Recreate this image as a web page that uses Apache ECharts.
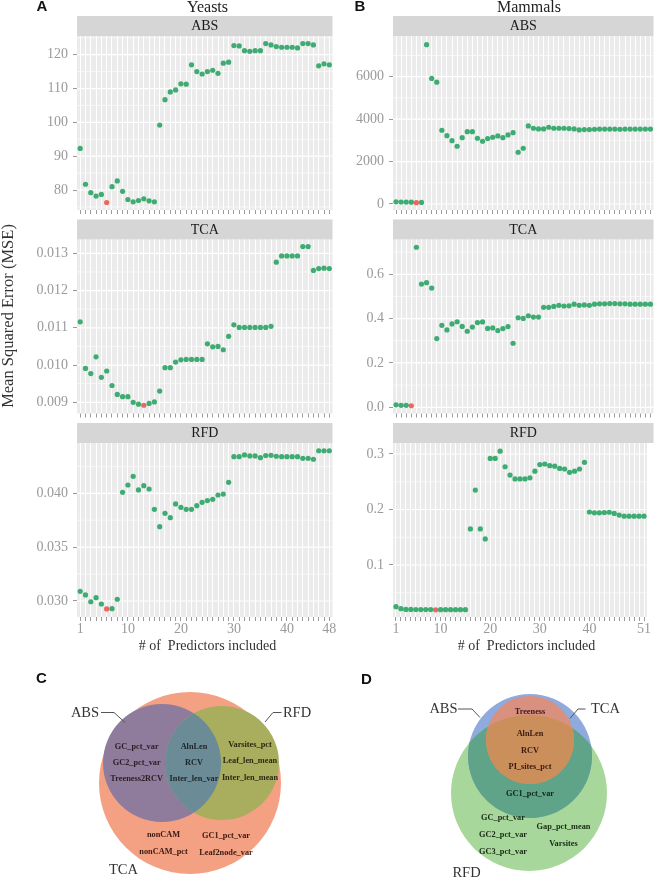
<!DOCTYPE html>
<html><head><meta charset="utf-8">
<script src="https://cdn.jsdelivr.net/npm/echarts@6/dist/echarts.min.js"></script>
<style>html,body{margin:0;padding:0;background:#fff}#c{width:654px;height:879px}</style>
</head><body><div id="c"></div>
<script>
// ---------------- DATA ----------------
const yeastsABS = [92.3, 81.7, 79.2, 78.2, 78.7, 76.3, 81.0, 82.7, 79.6, 77.2,
  76.5, 76.9, 77.4, 76.8, 76.5, 99.2, 106.7, 109.0, 109.6, 111.4,
  111.3, 117.0, 115.0, 114.3, 115.0, 115.4, 114.5, 117.5, 117.8, 122.7,
  122.6, 121.2, 121.0, 121.2, 121.2, 123.3, 122.9, 122.4, 122.2, 122.2,
  122.2, 122.0, 123.3, 123.3, 122.9, 116.7, 117.3, 117.0];
const yeastsTCA = [0.01116, 0.00991, 0.00977, 0.01022, 0.00967, 0.00984, 0.00945, 0.00921, 0.00915, 0.00915,
  0.00900, 0.00895, 0.00892, 0.00897, 0.00901, 0.00930, 0.00993, 0.00993, 0.01008, 0.01014,
  0.01015, 0.01015, 0.01015, 0.01015, 0.01057, 0.01049, 0.01050, 0.01041, 0.01077, 0.01108,
  0.01101, 0.01101, 0.01101, 0.01101, 0.01101, 0.01101, 0.01104, 0.01276, 0.01293, 0.01293,
  0.01293, 0.01293, 0.01318, 0.01318, 0.01254, 0.01259, 0.01260, 0.01259];
const yeastsRFD = [0.03090, 0.03056, 0.02993, 0.03031, 0.02972, 0.02926, 0.02929, 0.03016, 0.04009, 0.04077,
  0.04158, 0.04031, 0.04071, 0.04040, 0.03851, 0.03690, 0.03814, 0.03774, 0.03901, 0.03870,
  0.03851, 0.03851, 0.03885, 0.03916, 0.03932, 0.03944, 0.03984, 0.03993, 0.04102, 0.04340,
  0.04340, 0.04356, 0.04347, 0.04347, 0.04331, 0.04350, 0.04353, 0.04344, 0.04340, 0.04340,
  0.04340, 0.04340, 0.04325, 0.04325, 0.04316, 0.04395, 0.04395, 0.04395];
const mammalsABS = [100, 95, 90, 85, 60, 75, 7510, 5920, 5740, 3476,
  3222, 2986, 2722, 3127, 3410, 3410, 3099, 2958, 3084, 3146,
  3208, 3127, 3255, 3363, 2439, 2627, 3679, 3569, 3538, 3538,
  3617, 3569, 3569, 3569, 3553, 3538, 3490, 3506, 3506, 3522,
  3530, 3530, 3530, 3530, 3522, 3530, 3530, 3530, 3530, 3530, 3530];
const mammalsTCA = [0.011, 0.009, 0.009, 0.007, 0.722, 0.556, 0.562, 0.538, 0.310, 0.370,
  0.349, 0.376, 0.386, 0.365, 0.343, 0.362, 0.382, 0.385, 0.356, 0.358,
  0.346, 0.355, 0.364, 0.289, 0.404, 0.401, 0.413, 0.407, 0.407, 0.451,
  0.451, 0.455, 0.460, 0.457, 0.458, 0.465, 0.460, 0.462, 0.460, 0.465,
  0.467, 0.467, 0.468, 0.468, 0.467, 0.467, 0.465, 0.465, 0.465, 0.465, 0.465];
const mammalsRFD = [0.0249, 0.0213, 0.0200, 0.0199, 0.0198, 0.0197, 0.0197, 0.0196, 0.0193, 0.0195,
  0.0195, 0.0195, 0.0195, 0.0195, 0.0195, 0.165, 0.235, 0.165, 0.147, 0.292,
  0.292, 0.305, 0.277, 0.262, 0.255, 0.255, 0.255, 0.257, 0.269, 0.281,
  0.282, 0.279, 0.278, 0.274, 0.273, 0.267, 0.269, 0.273, 0.285, 0.1955,
  0.194, 0.194, 0.1945, 0.195, 0.193, 0.190, 0.188, 0.188, 0.188, 0.188, 0.188];

// selected (red) model per panel: number of predictors
const bestYeasts = [6, 13, 6];      // ABS, TCA, RFD
const bestMammals = [5, 4, 9];

const metrics = ['ABS', 'TCA', 'RFD'];
const groups = ['Yeasts', 'Mammals'];
const xLabelsYeasts = [1, 10, 20, 30, 40, 48];
const xLabelsMammals = [1, 10, 20, 30, 40, 51];

// y tick labels (major) and minor grid values
const yTicksYeasts = [[80, 90, 100, 110, 120], [0.009, 0.010, 0.011, 0.012, 0.013], [0.030, 0.035, 0.040]];
const yMinorYeasts = [[75, 85, 95, 105, 115, 125], [0.0095, 0.0105, 0.0115, 0.0125], [0.0325, 0.0375, 0.0425]];
const yTicksMammals = [[0, 2000, 4000, 6000], [0.0, 0.2, 0.4, 0.6], [0.1, 0.2, 0.3]];
const yMinorMammals = [[1000, 3000, 5000, 7000], [0.1, 0.3, 0.5, 0.7], [0.05, 0.15, 0.25]];
const yDecimals = [[0, 3, 3], [0, 1, 1]];
const yRangeYeasts = [[74.09, 125.53], [0.008699, 0.013370], [0.028514, 0.044670]];
const yRangeMammals = [[-283, 7918], [-0.028, 0.757], [0.00631, 0.3198]];

// Venn contents
const vennC_ABSonly = ['GC_pct_var', 'GC2_pct_var', 'Treeness2RCV'];
const vennC_ABS_RFD = ['AlnLen', 'RCV', 'Inter_len_var'];
const vennC_RFDonly = ['Varsites_pct', 'Leaf_len_mean', 'Inter_len_mean'];
const vennC_TCAonlyL = ['nonCAM', 'nonCAM_pct'];
const vennC_TCAonlyR = ['GC1_pct_var', 'Leaf2node_var'];
const vennD_TCAonly = ['Treeness'];
const vennD_all = ['AlnLen', 'RCV', 'PI_sites_pct'];
const vennD_ABS_RFD = ['GC1_pct_var'];
const vennD_RFDonlyL = ['GC_pct_var', 'GC2_pct_var', 'GC3_pct_var'];
const vennD_RFDonlyR = ['Gap_pct_mean', 'Varsites'];

// ---------------- LAYOUT / STYLE ----------------
const SERIF = '"Liberation Serif", "DejaVu Serif", serif';
const SANS = '"Liberation Sans", "DejaVu Sans", sans-serif';
const GREEN = '#119B52', RED = '#E8453C';
const TICK = '#9A9A9A';
const cols = [{left: 77, width: 255.5}, {left: 393, width: 260.5}];
const rows = [{top: 36, height: 174}, {top: 239.5, height: 174}, {top: 443, height: 174}];

const chart = echarts.init(document.getElementById('c'));

const grids = [], xAxes = [], yAxes = [], series = [], graphics = [];

// kind: 0 minor h-grid, 1 major h-grid, 2 v-grid, 3 x tick, 4 y tick
function gridLineRender(params, api) {
  const cs = params.coordSys;
  const kind = api.value(2);
  const p = api.coord([api.value(0), api.value(1)]);
  const x = Math.round(p[0] - 0.5) + 0.5, y = Math.round(p[1] - 0.5) + 0.5;
  if (kind === 2) {
    return {type: 'line', silent: true, shape: {x1: x, y1: cs.y, x2: x, y2: cs.y + cs.height},
      style: {stroke: '#FFFFFF', lineWidth: 1}};
  }
  if (kind === 3) {
    const b = cs.y + cs.height;
    return {type: 'line', silent: true, shape: {x1: x, y1: b, x2: x, y2: b + 4},
      style: {stroke: TICK, lineWidth: 1}};
  }
  if (kind === 4) {
    return {type: 'line', silent: true, shape: {x1: cs.x - 4, y1: y, x2: cs.x, y2: y},
      style: {stroke: TICK, lineWidth: 1}};
  }
  return {type: 'line', silent: true, shape: {x1: cs.x, y1: p[1], x2: cs.x + cs.width, y2: p[1]},
    style: {stroke: '#FFFFFF', lineWidth: kind === 1 ? 1.2 : 0.6}};
}

const datasets = [[yeastsABS, yeastsTCA, yeastsRFD], [mammalsABS, mammalsTCA, mammalsRFD]];
const bests = [bestYeasts, bestMammals];
const yTicks = [yTicksYeasts, yTicksMammals];
const yMinor = [yMinorYeasts, yMinorMammals];
const yRange = [yRangeYeasts, yRangeMammals];
const xLabs = [xLabelsYeasts, xLabelsMammals];

let gi = 0;
for (let c = 0; c < 2; c++) {
  for (let r = 0; r < 3; r++) {
    const vals = datasets[c][r];
    const n = vals.length;
    const xmin = 1 - 0.6, xmax = n + 0.6;
    const [ymin, ymax] = yRange[c][r];
    const xs = vals.map((v, i) => i + 1);
    const dec = yDecimals[c][r];
    grids.push({left: cols[c].left, top: rows[r].top, width: cols[c].width, height: rows[r].height,
      show: true, backgroundColor: '#EBEBEB', borderWidth: 0, containLabel: false});
    xAxes.push({gridIndex: gi, type: 'value', min: xmin, max: xmax,
      axisLine: {show: false}, splitLine: {show: false}, axisTick: {show: false},
      axisLabel: r === 2 ? {show: true, customValues: xLabs[c], color: TICK, fontFamily: SERIF, fontSize: 14, margin: 5}
                         : {show: false}});
    yAxes.push({gridIndex: gi, type: 'value', min: ymin, max: ymax,
      axisLine: {show: false}, splitLine: {show: false}, axisTick: {show: false},
      axisLabel: {show: true, customValues: yTicks[c][r], color: TICK, fontFamily: SERIF, fontSize: 14, margin: 9,
        formatter: v => Number(v).toFixed(dec)}});
    const gl = [];
    yMinor[c][r].forEach(v => gl.push([xmin, v, 0]));
    yTicks[c][r].forEach(v => gl.push([xmin, v, 1]));
    xs.forEach(v => gl.push([v, ymin, 2]));
    xs.forEach(v => gl.push([v, ymin, 3]));
    yTicks[c][r].forEach(v => gl.push([xmin, v, 4]));
    series.push({type: 'custom', xAxisIndex: gi, yAxisIndex: gi, silent: true, z: 1, clip: false,
      encode: {x: 0, y: 1}, data: gl, renderItem: gridLineRender, animation: false});
    series.push({type: 'scatter', xAxisIndex: gi, yAxisIndex: gi, z: 3, symbolSize: 5.2, animation: false,
      data: vals.map((v, i) => ({value: [i + 1, v],
        itemStyle: {color: (i + 1) === bests[c][r] ? RED : GREEN}}))});
    // strip
    graphics.push({type: 'rect', silent: true, shape: {x: cols[c].left, y: rows[r].top - 20, width: cols[c].width, height: 20},
      style: {fill: '#D6D6D6'}});
    graphics.push({type: 'text', silent: true, x: cols[c].left + cols[c].width / 2, y: rows[r].top - 9.5,
      style: {text: metrics[r], fontFamily: SERIF, fontSize: 14, fill: '#1A1A1A', align: 'center', verticalAlign: 'middle'}});
    gi++;
  }
}

// titles, axis titles, panel letters
function txt(x, y, text, opts) {
  return Object.assign({type: 'text', silent: true, x, y,
    style: Object.assign({text, fontFamily: SERIF, fontSize: 14, fill: '#222', align: 'center', verticalAlign: 'middle'}, opts || {})});
}
graphics.push(txt(207.5, 7.5, groups[0], {fontSize: 16}));
graphics.push(txt(529, 7.5, groups[1], {fontSize: 16}));
graphics.push(txt(42, 7, 'A', {fontFamily: SANS, fontWeight: 'bold', fontSize: 15, fill: '#111'}));
graphics.push(txt(360, 7, 'B', {fontFamily: SANS, fontWeight: 'bold', fontSize: 15, fill: '#111'}));
graphics.push(txt(207.5, 646, '# of  Predictors included', {fontSize: 14, fill: '#333'}));
graphics.push(txt(526.5, 646, '# of  Predictors included', {fontSize: 14, fill: '#333'}));
graphics.push(Object.assign(txt(9, 316, 'Mean Squared Error (MSE)', {fontSize: 16.5, fill: '#333'}), {rotation: Math.PI / 2}));
graphics.push(txt(41.5, 679, 'C', {fontFamily: SANS, fontWeight: 'bold', fontSize: 15, fill: '#111'}));
graphics.push(txt(366.5, 680, 'D', {fontFamily: SANS, fontWeight: 'bold', fontSize: 15, fill: '#111'}));

// ---------------- VENN ----------------
function arcPts(C, a0, a1, n) {
  const pts = [];
  for (let k = 0; k <= n; k++) { const a = a0 + (a1 - a0) * k / n; pts.push([C[0] + C[2] * Math.cos(a), C[1] + C[2] * Math.sin(a)]); }
  return pts;
}
function arcThrough(C, s, e, mid) {
  const T = 2 * Math.PI;
  let e2 = e; while (e2 < s) e2 += T;
  let m = mid; while (m < s) m += T;
  if (m <= e2) return arcPts(C, s, e2, 80);
  let e3 = e; while (e3 > s) e3 -= T;
  return arcPts(C, s, e3, 80);
}
function lens(A, B) {
  const dx = B[0] - A[0], dy = B[1] - A[1], d = Math.hypot(dx, dy);
  const a = (A[2] * A[2] - B[2] * B[2] + d * d) / (2 * d);
  const h = Math.sqrt(A[2] * A[2] - a * a);
  const ux = dx / d, uy = dy / d;
  const px = A[0] + a * ux, py = A[1] + a * uy;
  const I1 = [px - h * uy, py + h * ux], I2 = [px + h * uy, py - h * ux];
  const ang = (C, t) => Math.atan2(t[1] - C[1], t[0] - C[0]);
  const arc1 = arcThrough(A, ang(A, I1), ang(A, I2), Math.atan2(dy, dx));
  const arc2 = arcThrough(B, ang(B, I2), ang(B, I1), Math.atan2(-dy, -dx));
  return arc1.concat(arc2);
}
function circ(C, fill) { return {type: 'circle', silent: true, shape: {cx: C[0], cy: C[1], r: C[2]}, style: {fill}}; }
function poly(pts, fill) { return {type: 'polygon', silent: true, shape: {points: pts}, style: {fill}}; }
function leader(pts) { return {type: 'polyline', silent: true, shape: {points: pts}, style: {stroke: '#555', lineWidth: 1, fill: null}}; }
function list(x, y0, dy, arr, fill) { return arr.map((t, i) => txt(x, y0 + i * dy, t, {fontSize: 8.3, fontWeight: 'bold', fill})); }

// Venn C
const C_TCA = [190, 783, 91], C_ABS = [162, 763, 59], C_RFD = [222, 763, 57];
graphics.push(circ(C_TCA, '#F4A183'));
graphics.push(circ(C_ABS, '#8F7C9D'));
graphics.push(circ(C_RFD, '#A9AD5E'));
graphics.push(poly(lens(C_ABS, C_RFD), '#6B8C96'));
graphics.push(...list(136.7, 746.7, 16.3, vennC_ABSonly, '#2A1E24'));
graphics.push(...list(194, 746.7, 16.3, vennC_ABS_RFD, '#1E2428'));
graphics.push(...list(250, 745, 16.3, vennC_RFDonly, '#2A2A12'));
graphics.push(...list(163.5, 835, 16.7, vennC_TCAonlyL, '#3A1A12'));
graphics.push(...list(226, 836, 16.7, vennC_TCAonlyR, '#3A1A12'));
graphics.push(txt(85, 713, metrics[0], {fontSize: 14.5, fill: '#333'}));
graphics.push(txt(297, 713, metrics[2], {fontSize: 14.5, fill: '#333'}));
graphics.push(txt(123.5, 870, metrics[1], {fontSize: 14.5, fill: '#333'}));
graphics.push(leader([[101, 712.5], [114, 712.5], [125, 722.5]]));
graphics.push(leader([[281.5, 712.5], [273, 712.5], [265, 722]]));

// Venn D
const D_ABS = [530, 756, 62], D_TCA = [530, 740, 44], D_RFD = [529, 793, 78];
graphics.push(circ(D_RFD, '#A7D79A'));
graphics.push(circ(D_ABS, '#8FAADC'));
graphics.push(poly(lens(D_ABS, D_RFD), '#5FA488'));
graphics.push(circ(D_TCA, '#D9907F'));
graphics.push(poly(lens(D_TCA, D_RFD), '#CB8F5C'));
graphics.push(...list(530, 712, 16, vennD_TCAonly, '#3A1A1A'));
graphics.push(...list(530, 734, 16.6, vennD_all, '#3A1A10'));
graphics.push(...list(530, 794, 16, vennD_ABS_RFD, '#12261C'));
graphics.push(...list(503, 818.3, 16.7, vennD_RFDonlyL, '#1A2A16'));
graphics.push(...list(563.5, 827.3, 16.7, vennD_RFDonlyR, '#1A2A16'));
graphics.push(txt(443.5, 709, metrics[0], {fontSize: 14.5, fill: '#333'}));
graphics.push(txt(605.5, 709, metrics[1], {fontSize: 14.5, fill: '#333'}));
graphics.push(txt(466.5, 873, metrics[2], {fontSize: 14.5, fill: '#333'}));
graphics.push(leader([[458, 709], [472, 709], [480, 717.5]]));
graphics.push(leader([[585.5, 709], [578, 709], [570, 718.5]]));

chart.setOption({
  animation: false,
  backgroundColor: '#FFFFFF',
  grid: grids, xAxis: xAxes, yAxis: yAxes, series,
  graphic: {elements: graphics}
});
</script></body></html>
